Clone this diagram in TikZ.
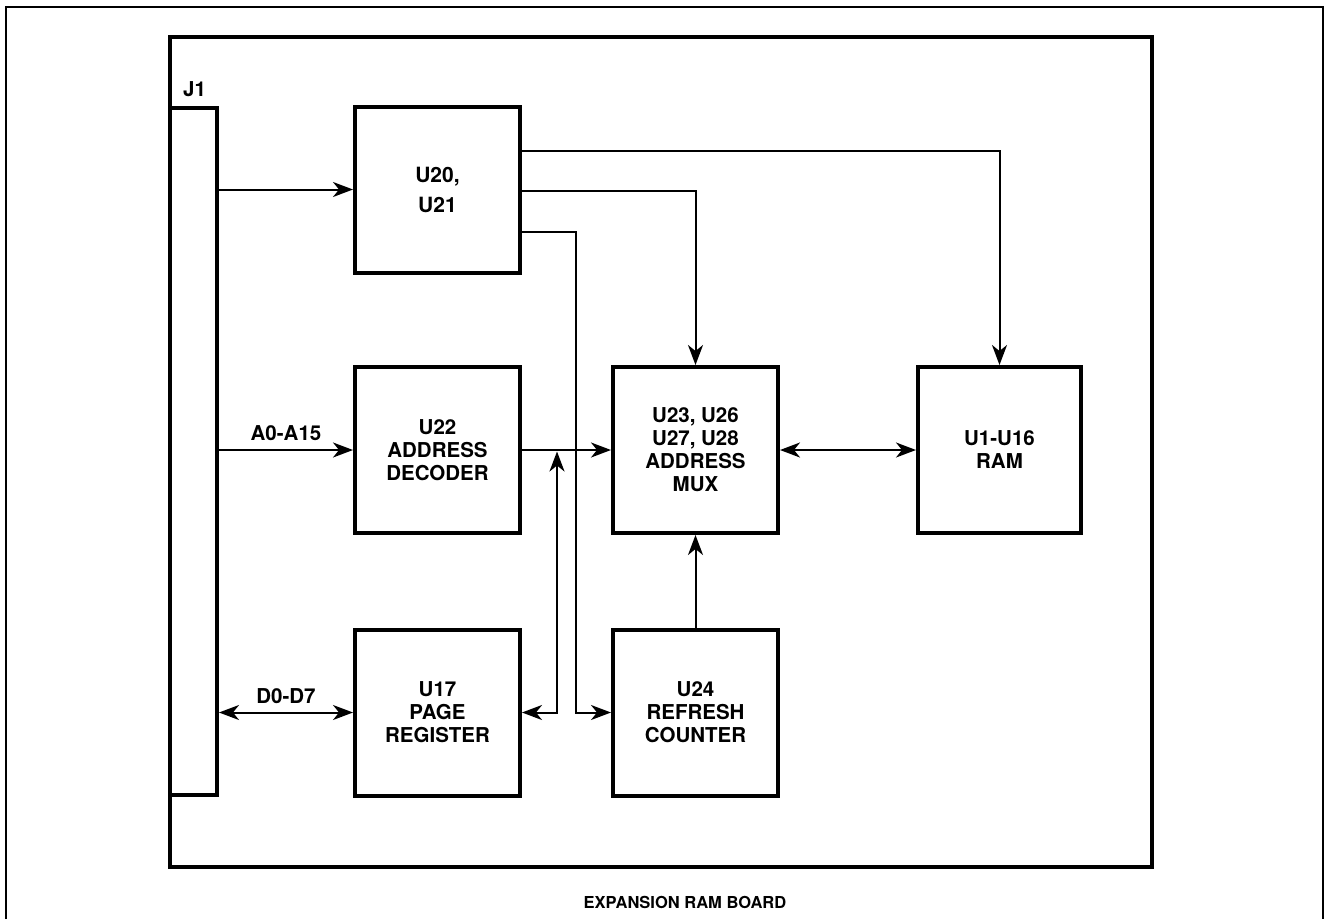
\documentclass[tikz,border=0pt]{standalone}
\usepackage{fontspec}
\setmainfont{TeX Gyre Heros}
\usetikzlibrary{arrows.meta}
\begin{document}
\begin{tikzpicture}[x=1pt,y=-1pt,
  box/.style={draw, line width=4pt, minimum width=165pt, minimum height=166pt, align=center, inner sep=0pt,
    font=\bfseries\fontsize{20.5}{23}\selectfont},
  conn/.style={line width=2pt, -{Stealth[length=20pt,width=15pt,inset=6pt]}},
  bi/.style={line width=2pt, {Stealth[length=20pt,width=15pt,inset=6pt]}-{Stealth[length=20pt,width=15pt,inset=6pt]}},
  lbl/.style={font=\bfseries\fontsize{20.5}{23}\selectfont, inner sep=0pt}
]
\useasboundingbox (0,0) rectangle (1326,919);
\fill[white] (0,0) rectangle (1326,919);
% outer frame
\draw[line width=2pt] (6,919) -- (6,7) -- (1323,7) -- (1323,919);
% inner frame
\draw[line width=4pt] (170,37) rectangle (1152,867);
% J1 connector bar
\node[draw, line width=4pt, minimum width=47pt, minimum height=687pt, inner sep=0pt] (J1bar) at (193.5,451.5) {};
\node[lbl, anchor=south west] (J1lbl) at (183,97) {J1};
% blocks
\node[box, font=\bfseries\fontsize{21}{30}\selectfont] (U20) at (437.5,189.5) {U20,\\U21};
\node[box] (U22) at (437.5,450) {U22\\ADDRESS\\DECODER};
\node[box] (U17) at (437.5,712.5) {U17\\PAGE\\REGISTER};
\node[box] (MUX) at (695.5,450) {U23, U26\\U27, U28\\ADDRESS\\MUX};
\node[box] (U24) at (695.5,712.5) {U24\\REFRESH\\COUNTER};
\node[box, minimum width=163pt] (RAM) at (999.5,450) {U1-U16\\RAM};
% J1 connections
\draw[conn] (J1bar.east |- U20.west) -- (U20.west);
\draw[conn] (J1bar.east |- U22.west) -- node[lbl, above=8pt] (a015) {A0-A15} (U22.west);
\draw[bi] (J1bar.east |- U17.west) -- node[lbl, above=8pt] (d07) {D0-D7} (U17.west);
% U20 outputs
\coordinate (o1) at (U20.east |- 0,151);
\coordinate (o2) at (U20.east |- 0,191);
\coordinate (o3) at (U20.east |- 0,232);
\coordinate (c3) at (576,712.5);
\draw[conn] (o1) -| (RAM.north);
\draw[conn] (o2) -| (MUX.north);
\draw[conn] (o3) -| (c3) -- (U24.west);
% decoder to mux
\draw[conn] (U22.east) -- (MUX.west);
% page register to address bus
\coordinate (p1) at (557,712.5);
\coordinate (p2) at (557,451.5);
\draw[bi] (U17.east) -- (p1) -- (p2);
% mux <-> ram
\draw[bi] (MUX.east) -- (RAM.west);
% refresh counter to mux
\draw[conn] (U24.north) -- (MUX.south);
% title
\node[font=\bfseries\fontsize{16.5}{19}\selectfont] (title) at (685,902) {EXPANSION RAM BOARD};
\end{tikzpicture}
\end{document}
